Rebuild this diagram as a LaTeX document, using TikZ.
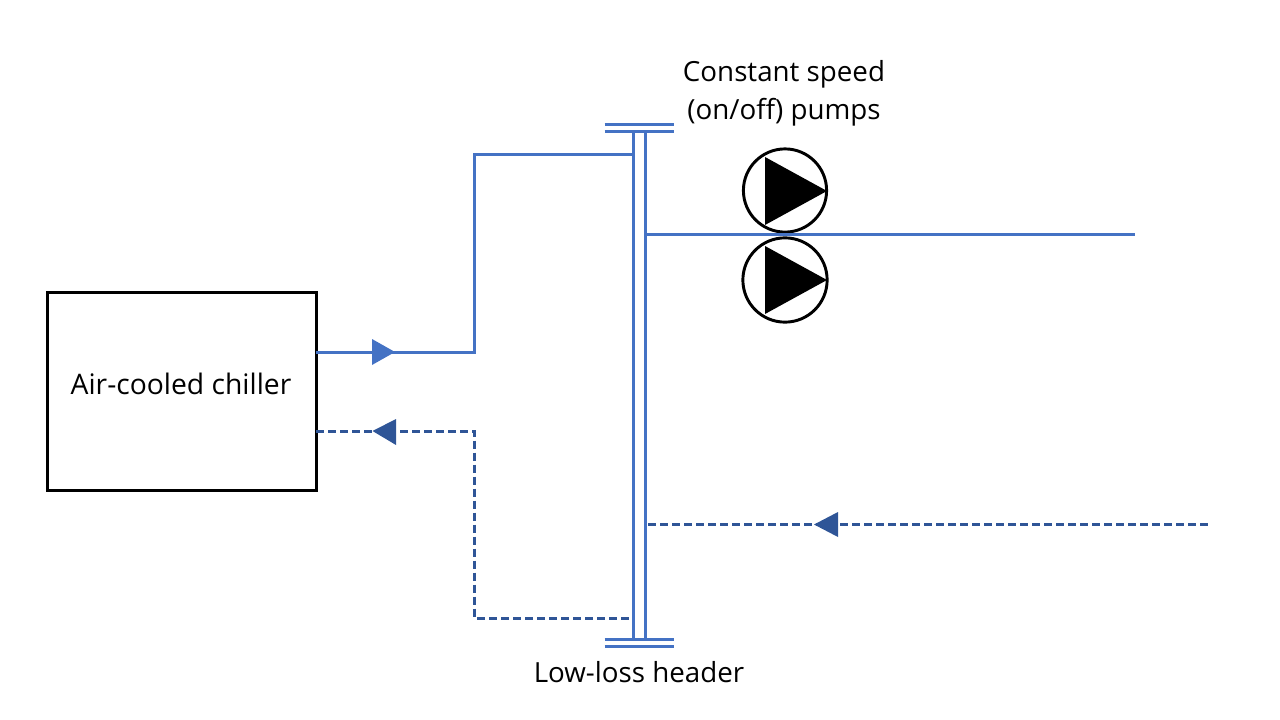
\documentclass[tikz,border=0pt]{standalone}
\usepackage{fontspec}
\setmainfont{Open Sans}
\definecolor{supply}{HTML}{4472C4}
\definecolor{ret}{HTML}{2F5597}
\tikzset{
 x=0.75pt,y=-0.75pt,
 pipe/.style={draw=supply,line width=2.25pt},
 returnpipe/.style={draw=ret,line width=2.25pt,dash pattern=on 6pt off 3pt},
 labeltext/.style={inner sep=0pt,font=\fontsize{20.8}{28.5}\selectfont,align=center,text=black},
 pumpcircle/.style={circle,draw=black,line width=2.2pt,fill=white,inner sep=0pt},
 chillerbox/.style={rectangle,draw=black,line width=2.25pt,fill=white,inner sep=0pt,minimum width=201.75pt,minimum height=148.5pt},
}
\begin{document}
\begin{tikzpicture}
\useasboundingbox (0,0) rectangle (1280,720);
% chiller
\node[chillerbox] (chiller) at (181.5,391) {};
\node[labeltext,font=\fontsize{21.2}{28.5}\selectfont] (chillertext) at (181,384) {Air-cooled chiller};
% header
\coordinate (hLtop) at (633.5,132);
\coordinate (hLbot) at (633.5,640);
\coordinate (hRtop) at (645.5,132);
\coordinate (hRbot) at (645.5,640);
\coordinate (capA1) at (604.5,124.5); \coordinate (capA2) at (673.5,124.5);
\coordinate (capB1) at (604.5,131.5); \coordinate (capB2) at (673.5,131.5);
\coordinate (capC1) at (604.5,639.5); \coordinate (capC2) at (673.5,639.5);
\coordinate (capD1) at (604.5,646); \coordinate (capD2) at (673.5,646);
\draw[pipe] (hLtop) -- (hLbot);
\draw[pipe] (hRtop) -- (hRbot);
\draw[pipe] (capA1) -- (capA2);
\draw[pipe] (capB1) -- (capB2);
\draw[pipe] (capC1) -- (capC2);
\draw[pipe] (capD1) -- (capD2);
% pipes
\coordinate (chilOut) at (316,352);
\coordinate (chilIn) at (316,431);
\coordinate (hdrIn) at (632.5,155);
\coordinate (hdrRet) at (632.5,618);
\coordinate (hdrOut) at (646.5,235);
\coordinate (hdrRetIn) at (648,524);
\coordinate (supplyEnd) at (1135,235);
\coordinate (returnEnd) at (1210,524);
\draw[pipe] (chilOut) -- (474.5,352) -- (474.5,155) -- (hdrIn);
\draw[returnpipe] (chilIn) -- (474.5,431) -- (474.5,618) -- (hdrRet);
\draw[returnpipe] (hdrRetIn) -- (returnEnd);
% pumps
\node[pumpcircle,minimum size=62.4pt] (pumpA) at (785,190.5) {};
\node[pumpcircle,minimum size=63.2pt] (pumpB) at (785,280) {};
\draw[pipe] (hdrOut) -- (supplyEnd);
\fill[black] (765,157) -- (827,191) -- (765,225) -- cycle;
\fill[black] (765,246) -- (827,280) -- (765,314) -- cycle;
% arrowheads
\fill[supply] (372,339) -- (395,352) -- (372,365) -- cycle;
\fill[ret] (396,419) -- (372.5,431) -- (396,445) -- cycle;
\fill[ret] (838,512) -- (814,524.5) -- (838,537) -- cycle;
% labels
\node[labeltext] (pumplabel) at (784,93) {Constant speed\\(on/off) pumps};
\node[labeltext] (hdrlabel) at (639,672) {Low-loss header};
\end{tikzpicture}
\end{document}
